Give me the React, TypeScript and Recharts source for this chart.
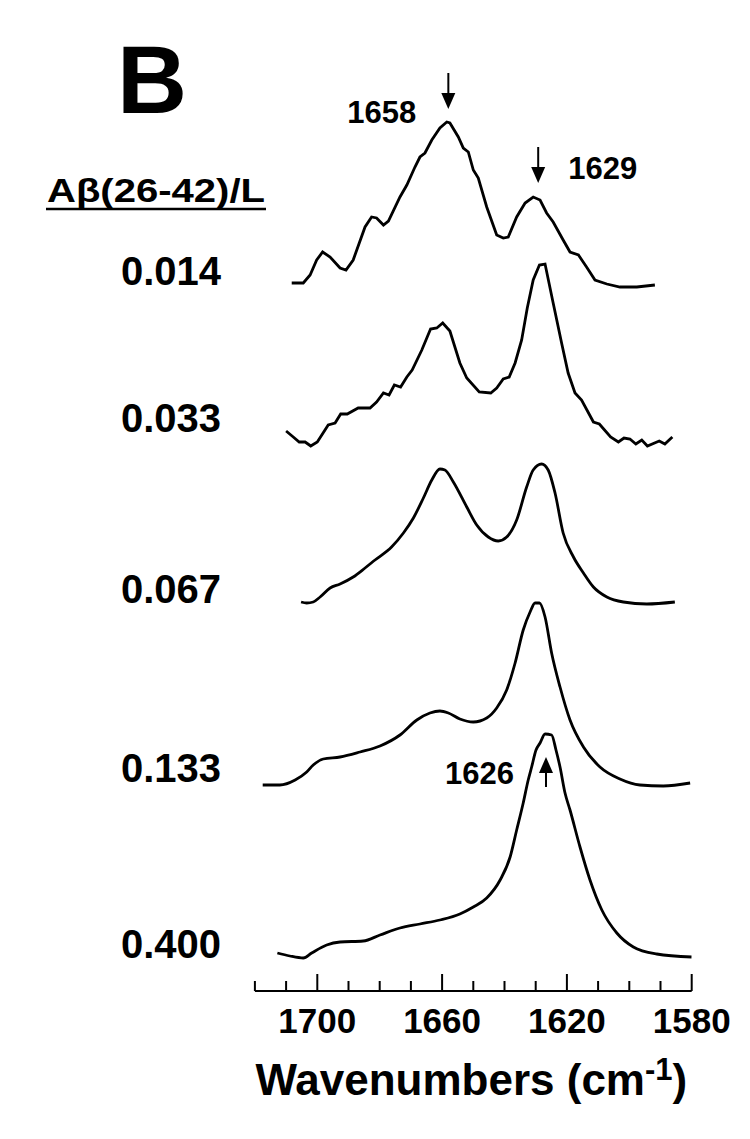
import React from 'react';
import { LineChart, Line, XAxis, YAxis, ReferenceDot } from 'recharts';

// wavenumber (cm-1) / stacked absorbance (arbitrary units, offset per trace)
const wn014 = [1708.2, 1704.5, 1702.3, 1700.2, 1698.3, 1695.9, 1692.7, 1690.8, 1688.5, 1684.7, 1682.6, 1681.0, 1678.8, 1677.2, 1673.5, 1671.3, 1668.7, 1667.1, 1665.5, 1663.3, 1660.7, 1658.5, 1657.5, 1654.8, 1653.2, 1651.6, 1650.0, 1648.4, 1645.7, 1642.5, 1640.4, 1638.8, 1636.1, 1633.4, 1630.8, 1628.6, 1626.5, 1624.4, 1621.2, 1619.0, 1616.3, 1613.7, 1611.0, 1607.2, 1603.0, 1597.6, 1591.8];
const ab014 = [70.8, 70.8, 71.6, 73.1, 73.9, 73.4, 72.3, 72.1, 73.1, 76.4, 77.4, 77.3, 76.6, 77.0, 79.4, 80.6, 82.4, 83.4, 83.8, 85.1, 86.3, 86.9, 86.8, 85.4, 84.3, 83.9, 82.1, 81.3, 78.4, 75.6, 75.3, 75.4, 77.4, 78.8, 79.4, 79.1, 77.8, 76.9, 75.1, 73.9, 73.6, 72.4, 71.1, 70.7, 70.4, 70.4, 70.6];

const wn033 = [1710.0, 1707.7, 1705.8, 1703.9, 1702.1, 1700.0, 1696.5, 1694.3, 1692.5, 1690.4, 1686.9, 1683.1, 1681.0, 1678.8, 1677.0, 1675.3, 1673.3, 1671.3, 1669.6, 1666.5, 1663.7, 1661.7, 1659.8, 1657.5, 1654.3, 1652.1, 1648.1, 1644.4, 1642.5, 1640.4, 1638.5, 1636.6, 1634.5, 1632.7, 1630.8, 1628.8, 1627.0, 1624.4, 1621.7, 1619.6, 1617.4, 1615.3, 1611.5, 1609.6, 1606.0, 1603.5, 1601.7, 1599.8, 1597.9, 1596.0, 1594.2, 1590.4, 1588.6, 1586.2];
const ab033 = [56.0, 55.4, 54.9, 54.9, 54.5, 54.9, 56.6, 56.8, 57.7, 57.7, 58.3, 58.3, 58.9, 59.8, 59.6, 60.6, 60.4, 61.4, 62.1, 64.1, 66.2, 66.3, 66.8, 66.0, 62.8, 61.3, 59.9, 59.8, 60.3, 61.2, 61.4, 62.8, 65.1, 68.3, 71.1, 72.6, 72.7, 68.8, 64.8, 61.8, 59.8, 59.1, 56.9, 56.7, 55.4, 54.9, 55.3, 55.2, 54.7, 55.1, 54.5, 55.0, 54.7, 55.4];

const wn067 = [1705.2, 1703.4, 1701.3, 1699.1, 1695.9, 1692.7, 1688.5, 1684.7, 1681.5, 1676.2, 1672.4, 1669.2, 1666.0, 1663.3, 1660.7, 1659.1, 1656.4, 1652.1, 1648.9, 1645.2, 1642.0, 1639.3, 1636.1, 1632.9, 1630.8, 1628.1, 1626.0, 1623.8, 1621.2, 1617.9, 1614.7, 1611.5, 1607.2, 1601.9, 1594.4, 1585.4];
const ab067 = [38.9, 38.8, 38.9, 39.4, 40.3, 40.7, 41.4, 42.3, 43.1, 44.4, 45.8, 47.3, 49.3, 51.1, 52.2, 52.1, 50.9, 48.4, 46.6, 45.4, 45.0, 45.4, 47.1, 50.4, 52.1, 52.7, 52.1, 49.8, 45.8, 43.4, 41.8, 40.4, 39.4, 38.9, 38.7, 38.9];

const wn133 = [1717.5, 1712.0, 1707.1, 1703.4, 1701.3, 1698.1, 1692.7, 1686.3, 1679.9, 1673.5, 1668.1, 1663.9, 1660.7, 1658.0, 1654.3, 1650.0, 1645.7, 1642.5, 1639.3, 1636.6, 1634.0, 1631.8, 1630.2, 1628.8, 1627.0, 1624.9, 1622.2, 1619.0, 1614.7, 1609.4, 1603.0, 1596.6, 1589.1, 1580.5];
const ab133 = [20.6, 20.6, 21.1, 21.9, 22.6, 23.2, 23.4, 23.9, 24.5, 25.6, 27.1, 27.8, 28.0, 27.8, 27.2, 26.9, 27.3, 28.3, 30.1, 32.8, 36.1, 37.9, 38.8, 38.8, 37.4, 33.8, 30.4, 27.1, 24.4, 22.4, 21.2, 20.6, 20.5, 20.8];

const wn400 = [1712.8, 1708.8, 1704.5, 1701.8, 1697.0, 1692.7, 1685.3, 1679.9, 1673.5, 1667.1, 1660.7, 1654.3, 1650.0, 1645.7, 1641.4, 1638.2, 1636.1, 1634.0, 1632.4, 1631.3, 1629.9, 1628.6, 1627.0, 1624.9, 1623.5, 1622.2, 1620.6, 1619.0, 1615.8, 1612.6, 1608.8, 1604.0, 1598.7, 1591.2, 1580.0];
const ab400 = [3.8, 3.5, 3.3, 3.8, 4.6, 4.9, 5.0, 5.6, 6.3, 6.7, 7.1, 7.7, 8.4, 9.3, 11.1, 13.4, 16.1, 18.8, 21.1, 22.4, 24.1, 24.8, 25.7, 25.6, 24.1, 22.4, 19.8, 18.1, 14.4, 11.1, 8.1, 5.8, 4.4, 3.7, 3.4];

const ratios = ['0.014', '0.033', '0.067', '0.133', '0.400'];
const xTicks = [1720, 1710, 1700, 1690, 1680, 1670, 1660, 1650, 1640, 1630, 1620, 1610, 1600, 1590, 1580];
const majorTicks = [1700, 1660, 1620, 1580];

// peak markers: wavenumber, arrow tip height, direction
const peaks = [
  { w: 1658, tip: 88.2, dir: 'down', text: '1658', side: 'left' },
  { w: 1629.2, tip: 80.8, dir: 'down', text: '1629', side: 'right' },
  { w: 1626.7, tip: 23.4, dir: 'up', text: '1626', side: 'left' },
];

const zip = (w: number[], a: number[]) => w.map((v, i) => ({ w: v, a: a[i] }));

const series = [
  { name: ratios[0], data: zip(wn014, ab014), type: 'linear' },
  { name: ratios[1], data: zip(wn033, ab033), type: 'linear' },
  { name: ratios[2], data: zip(wn067, ab067), type: 'monotone' },
  { name: ratios[3], data: zip(wn133, ab133), type: 'monotone' },
  { name: ratios[4], data: zip(wn400, ab400), type: 'monotone' },
];

const labelY = [285, 432, 603, 782, 958];
const FONT = '"Liberation Sans", Arial, sans-serif';

const AxisTick = (props: any) => {
  const { x, y, payload } = props;
  const major = majorTicks.includes(payload.value);
  return (
    <g>
      <line x1={x} x2={x} y1={y} y2={y - (major ? 17 : 10)} stroke="#000" strokeWidth={2} />
      {major && (
        <text x={x} y={y + 42} textAnchor="middle" fontFamily={FONT} fontWeight="bold" fontSize={35} fill="#000">
          {payload.value}
        </text>
      )}
    </g>
  );
};

const AxisTitle = (props: any) => {
  const vb = props.viewBox;
  const cx = vb.x + vb.width / 2 - 2;
  const by = vb.y + 104;
  return (
    <text x={cx} y={by} textAnchor="middle" fontFamily={FONT} fontWeight="bold" fontSize={44} fill="#000">
      Wavenumbers (cm
      <tspan fontSize={31} dy={-15}>-1</tspan>
      <tspan dy={15}>)</tspan>
    </text>
  );
};

const Arrow = (p: any) => (props: any) => {
  const { cx, cy } = props;
  const down = p.dir === 'down';
  const len = down ? 36 : 30;
  const head = 16;
  const s = down ? -1 : 1; // direction from tip to tail
  const tailY = cy + s * len;
  const baseY = cy + s * head;
  const lx = p.side === 'left' ? cx - 32 : cx + 30;
  const ly = down ? (p.side === 'left' ? cy + 14 : cy - 4) : cy + 27;
  return (
    <g>
      <line x1={cx} x2={cx} y1={tailY} y2={baseY} stroke="#000" strokeWidth={2} />
      <polygon points={`${cx},${cy} ${cx - 7},${baseY} ${cx + 7},${baseY}`} fill="#000" />
      <text x={lx} y={ly} textAnchor={p.side === 'left' ? 'end' : 'start'} fontFamily={FONT} fontWeight="bold" fontSize={31} fill="#000">
        {p.text}
      </text>
    </g>
  );
};

export default function App() {
  return (
    <div style={{ position: 'absolute', left: 0, top: 0, width: 750, height: 1139, background: '#fff' }}>
      <LineChart width={750} height={1139} margin={{ top: 80, right: 58.3, bottom: 0, left: 254.9 }}>
        <XAxis
          type="number"
          dataKey="w"
          domain={[1580, 1720]}
          reversed
          ticks={xTicks}
          interval={0}
          height={148}
          tickSize={0}
          tickMargin={0}
          tickLine={false}
          axisLine={{ stroke: '#000', strokeWidth: 2 }}
          tick={<AxisTick />}
          label={<AxisTitle />}
          allowDataOverflow
        />
        <YAxis type="number" domain={[0, 91.1]} hide width={0} allowDataOverflow />
        {series.map((s) => (
          <Line
            key={s.name}
            data={s.data}
            dataKey="a"
            type={s.type as any}
            stroke="#000"
            strokeWidth={2.8}
            dot={false}
            isAnimationActive={false}
          />
        ))}
        {peaks.map((p) => (
          <ReferenceDot key={p.text} x={p.w} y={p.tip} r={0} shape={Arrow(p)} />
        ))}
      </LineChart>
      <svg width={750} height={1139} style={{ position: 'absolute', left: 0, top: 0, pointerEvents: 'none' }}>
        <text x={152} y={113} textAnchor="middle" fontFamily={FONT} fontWeight="bold" fontSize={97} fill="#000">B</text>
        <text x={47} y={202} fontFamily={FONT} fontWeight="bold" fontSize={34} fill="#000" textLength={218} lengthAdjust="spacingAndGlyphs">
          Aβ(26-42)/L
        </text>
        <line x1={46} x2={266} y1={209} y2={209} stroke="#000" strokeWidth={2.5} />
        {ratios.map((r, i) => (
          <text key={r} x={121} y={labelY[i]} fontFamily={FONT} fontWeight="bold" fontSize={40} fill="#000">{r}</text>
        ))}
      </svg>
    </div>
  );
}
